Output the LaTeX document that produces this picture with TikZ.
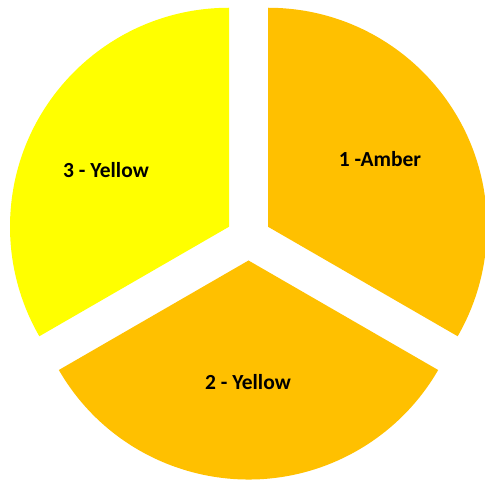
\documentclass[tikz,border=0pt]{standalone}
\usepackage{fontspec}
\setmainfont{Carlito}
\definecolor{amber}{HTML}{FFC000}
\definecolor{yel}{HTML}{FFFF00}
\begin{document}
\begin{tikzpicture}[x=1pt,y=1pt,
  lbl/.style={font=\fontsize{21.5}{25}\selectfont\bfseries, text=black, inner sep=0pt}]
\useasboundingbox (0,0) rectangle (485,482);
\def\R{219}
\coordinate (c1) at (268,255.25);
\coordinate (c3) at (229,255.25);
\coordinate (c2) at (248.5,221.5);
\fill[amber] (c1) -- ++(90:\R) arc[start angle=90, end angle=-30, radius=\R] -- cycle;
\fill[yel] (c3) -- ++(90:\R) arc[start angle=90, end angle=210, radius=\R] -- cycle;
\fill[amber] (c2) -- ++(210:\R) arc[start angle=210, end angle=330, radius=\R] -- cycle;
\node[lbl] (l1) at (380,323) {1 -Amber};
\node[lbl] (l3) at (106,312) {3 - Yellow};
\node[lbl] (l2) at (248,100) {2 - Yellow};
\end{tikzpicture}
\end{document}
